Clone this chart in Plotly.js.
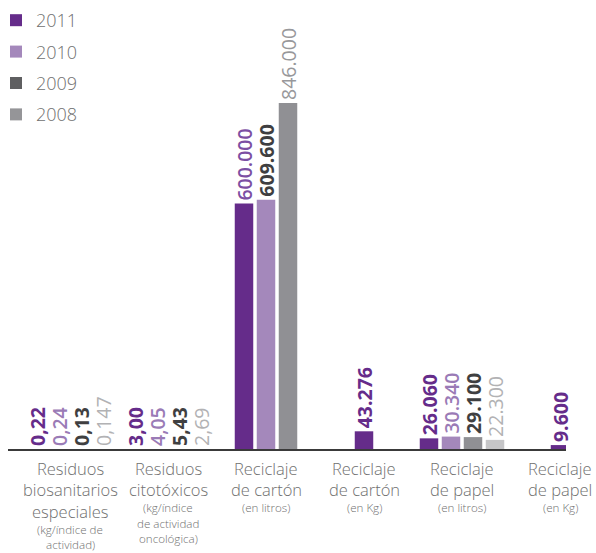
<!DOCTYPE html>
<html>
<head>
<meta charset="utf-8">
<script src="https://cdn.plot.ly/plotly-3.0.1.min.js"></script>
<style>
  html, body { margin: 0; padding: 0; background: #fff; }
  #chart { width: 596px; height: 553px; }
</style>
</head>
<body>
<div id="chart"></div>
<script>
// ---------- DATA ----------
const categories = [
  'Residuos biosanitarios especiales (kg/índice de actividad)',
  'Residuos citotóxicos (kg/índice de actividad oncológica)',
  'Reciclaje de cartón (en litros)',
  'Reciclaje de cartón (en Kg)',
  'Reciclaje de papel (en litros)',
  'Reciclaje de papel (en Kg)'
];
const labelMain = [
  ['Residuos', 'biosanitarios', 'especiales'],
  ['Residuos', 'citotóxicos'],
  ['Reciclaje', 'de cartón'],
  ['Reciclaje', 'de cartón'],
  ['Reciclaje', 'de papel'],
  ['Reciclaje', 'de papel']
];
const labelSub = [
  ['(kg/índice de', 'actividad)'],
  ['(kg/índice', 'de actividad', 'oncológica)'],
  ['(en litros)'],
  ['(en Kg)'],
  ['(en litros)'],
  ['(en Kg)']
];
const years = ['2011', '2010', '2009', '2008'];
const v2011 = [0.22, 3.00, 600000, 43276, 26060, 9600];
const v2010 = [0.24, 4.05, 609600, null, 30340, null];
const v2009 = [0.13, 5.43, 846000, null, 29100, null];
const v2008 = [0.147, 2.69, null, null, 22300, null];
const t2011 = ['0,22', '3,00', '600.000', '43.276', '26.060', '9.600'];
const t2010 = ['0,24', '4,05', '609.600', '', '30.340', ''];
const t2009 = ['0,13', '5,43', '846.000', '', '29.100', ''];
const t2008 = ['0,147', '2,69', '', '', '22.300', ''];

// ---------- STYLE ----------
const series = [
  { name: years[0], values: v2011, text: t2011, legendColor: '#652c8a', bar: '#652c8a', label: '#652c8a', weight: 700 },
  { name: years[1], values: v2010, text: t2010, legendColor: '#a488bb', bar: '#a488bb', label: '#9a7bb6', weight: 600 },
  { name: years[2], values: v2009, text: t2009, legendColor: '#5f5f61', bar: '#909094', label: '#3f3f41', weight: 700 },
  { name: years[3], values: v2008, text: t2008, legendColor: '#959598', bar: '#c6c6c8', label: '#b2b2b4', weight: 400 }
];
// label colours in the cartón (litros) group are shifted in the original
const cartonLabel = ['#7c4fa3', '#3f3f41', '#98989b'];
const cartonWeight = [600, 700, 400];

const FONT = 'Open Sans, Lato, sans-serif';
const PX_PER_CAT = 98;
const slot = 22 / PX_PER_CAT;
const barW = 18.5 / PX_PER_CAT;
const baseOff = 7335; // small stub below zero so tiny values stay visible

const MAIN_SIZE = 16.5, SUB_SIZE = 11.6;
const MAIN_START = 19, MAIN_STEP = 21.5, MAIN_SUB_GAP = 18.3, SUB_STEP = 15.5;

const traces = series.map((s, si) => {
  const offsets = [], colors = [], tcolors = [], tweights = [];
  categories.forEach((c, ci) => {
    const present = series.filter(o => o.values[ci] !== null && o.values[ci] !== undefined);
    const k = present.indexOf(s);
    const n = present.length;
    offsets.push(k >= 0 ? (k - n / 2) * slot + (slot - barW) / 2 : 0);
    colors.push(ci === 0 ? s.legendColor : s.bar);
    if (ci === 2 && k >= 0) { tcolors.push(cartonLabel[k]); tweights.push(cartonWeight[k]); }
    else { tcolors.push(s.label); tweights.push(s.weight); }
  });
  return {
    type: 'bar',
    name: s.name,
    legendgroup: s.name,
    x: categories,
    y: s.values,
    base: -baseOff,
    width: barW,
    offset: offsets,
    marker: { color: colors, line: { width: 0 } },
    text: s.text,
    textposition: 'outside',
    textangle: -90,
    constraintext: 'none',
    cliponaxis: false,
    textfont: { family: FONT, size: 19.5, color: tcolors, weight: tweights },
    hoverinfo: 'skip'
  };
});

const annotations = [];
categories.forEach((c, ci) => {
  const main = labelMain[ci];
  main.forEach((line, j) => {
    annotations.push({
      x: c, xref: 'x', y: 0, yref: 'paper', yanchor: 'middle', xanchor: 'center',
      yshift: -(MAIN_START + MAIN_STEP * j), showarrow: false, text: line, borderpad: 0,
      font: { family: FONT, size: MAIN_SIZE, color: '#707070', weight: 300 }
    });
  });
  const startSub = MAIN_START + MAIN_STEP * (main.length - 1) + MAIN_SUB_GAP;
  labelSub[ci].forEach((line, j) => {
    annotations.push({
      x: c, xref: 'x', y: 0, yref: 'paper', yanchor: 'middle', xanchor: 'center',
      yshift: -(startSub + SUB_STEP * j), showarrow: false, text: line, borderpad: 0,
      font: { family: FONT, size: SUB_SIZE, color: '#707070', weight: 300 }
    });
  });
});

const layout = {
  width: 596, height: 553,
  margin: { l: 8, r: 30, t: 10, b: 104, autoexpand: false },
  paper_bgcolor: '#ffffff', plot_bgcolor: '#ffffff',
  barmode: 'overlay',
  showlegend: true,
  legend: {
    x: -0.0215, xref: 'paper', xanchor: 'left',
    y: 0.9964, yref: 'container', yanchor: 'top',
    bgcolor: 'rgba(0,0,0,0)', borderwidth: 0,
    tracegroupgap: 5, traceorder: 'grouped',
    font: { family: FONT, size: 18, color: '#707070', weight: 300 }
  },
  xaxis: {
    type: 'category', range: [-0.6327, 5.0612],
    showline: true, linecolor: '#3a3a3a', linewidth: 1.5,
    showticklabels: false, ticks: '', showgrid: false, zeroline: false, fixedrange: true
  },
  yaxis: {
    range: [-baseOff, 1066020],
    visible: false, showgrid: false, zeroline: false, fixedrange: true
  },
  annotations: annotations,
  font: { family: FONT }
};

Plotly.newPlot('chart', traces, layout, { displayModeBar: false, staticPlot: true });
</script>
</body>
</html>
